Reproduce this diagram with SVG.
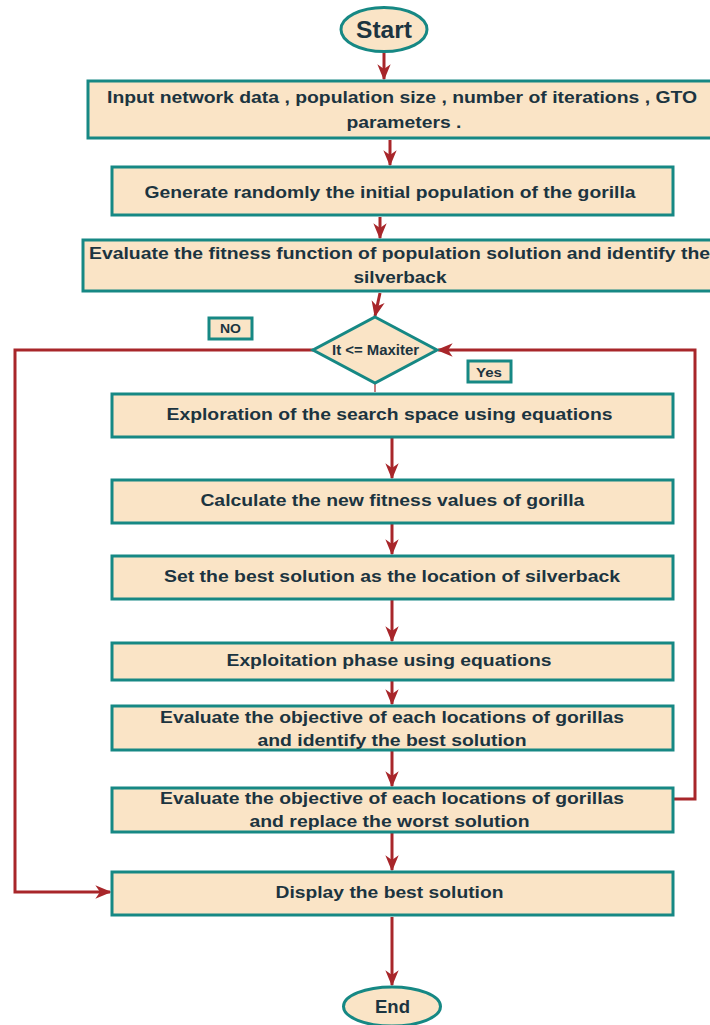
<svg xmlns="http://www.w3.org/2000/svg" width="710" height="1025" viewBox="0 0 710 1025">
<style>
.n{fill:#FAE4C6;stroke:#168884;stroke-width:3}
.t{font-family:"Liberation Sans",Arial,sans-serif;font-weight:bold;fill:#1C3440;text-anchor:middle}
.c{fill:none;stroke:#A8262A;stroke-width:3}
</style>
<defs>
<marker id="ah" viewBox="0 0 12 10" refX="11" refY="5" markerWidth="6" markerHeight="5" markerUnits="userSpaceOnUse" orient="auto">
<path d="M0,0 L12,5 L0,10 L3.5,5 z" fill="#A8262A"/>
</marker>
<marker id="a" viewBox="0 0 12 10" refX="11" refY="5" markerWidth="16" markerHeight="14" markerUnits="userSpaceOnUse" orient="auto">
<path d="M0,0 L12,5 L0,10 L3.5,5 z" fill="#A8262A"/>
</marker>
</defs>
<rect width="710" height="1025" fill="#fff"/>
<g id="connectors">
<path class="c" d="M384,52 V79" marker-end="url(#a)"/>
<path class="c" d="M390,140 V165" marker-end="url(#a)"/>
<path class="c" d="M380,217 V238" marker-end="url(#a)"/>
<path class="c" d="M380,293 L375,316" marker-end="url(#a)"/>
<path d="M375,383 V392" stroke="#A8262A" stroke-width="1.2" fill="none"/>
<path class="c" d="M392,438 V478" marker-end="url(#a)"/>
<path class="c" d="M392,524 V554" marker-end="url(#a)"/>
<path class="c" d="M392,600 V641" marker-end="url(#a)"/>
<path class="c" d="M392,681 V704" marker-end="url(#a)"/>
<path class="c" d="M392,751 V786" marker-end="url(#a)"/>
<path class="c" d="M392,833 V870" marker-end="url(#a)"/>
<path class="c" d="M392,917 V985" marker-end="url(#a)"/>
<path class="c" d="M313,350 H15 V892 H110" marker-end="url(#a)"/>
<path class="c" d="M674,799 H695 V350 H438" marker-end="url(#a)"/>
</g>
<g id="start">
<ellipse class="n" cx="384" cy="29.5" rx="43" ry="22" stroke-width="1.5"/>
<text class="t" x="384" y="37.5" font-size="23" textLength="56" lengthAdjust="spacingAndGlyphs">Start</text>
</g>
<g id="input">
<rect class="n" x="88" y="81" width="625" height="57"/>
<text class="t" x="402" y="103" font-size="17" textLength="590" lengthAdjust="spacingAndGlyphs">Input network data , population size , number of iterations , GTO</text>
<text class="t" x="404" y="128" font-size="17" textLength="115" lengthAdjust="spacingAndGlyphs">parameters .</text>
</g>
<g id="generate">
<rect class="n" x="112" y="167" width="561" height="48"/>
<text class="t" x="390" y="198" font-size="17" textLength="491" lengthAdjust="spacingAndGlyphs">Generate randomly the initial population of the gorilla</text>
</g>
<g id="evaluate-fitness">
<rect class="n" x="83" y="240" width="635" height="51"/>
<text class="t" x="399.5" y="259" font-size="17" textLength="621" lengthAdjust="spacingAndGlyphs">Evaluate the fitness function of population solution and identify the</text>
<text class="t" x="400" y="283" font-size="17" textLength="93" lengthAdjust="spacingAndGlyphs">silverback</text>
</g>
<g id="decision">
<path class="n" d="M375,317 L437,350 L375,383 L313,350 Z"/>
<text class="t" x="375.5" y="355" font-size="14" textLength="87" lengthAdjust="spacingAndGlyphs">It &lt;= Maxiter</text>
</g>
<g id="label-no">
<rect class="n" x="209" y="318" width="43" height="21"/>
<text class="t" x="230.5" y="333" font-size="13" textLength="21" lengthAdjust="spacingAndGlyphs">NO</text>
</g>
<g id="label-yes">
<rect class="n" x="468" y="361" width="43" height="21"/>
<text class="t" x="489" y="376.5" font-size="13" textLength="26" lengthAdjust="spacingAndGlyphs">Yes</text>
</g>
<g id="exploration">
<rect class="n" x="112" y="394" width="561" height="43"/>
<text class="t" x="389.5" y="420" font-size="17" textLength="446" lengthAdjust="spacingAndGlyphs">Exploration of the search space using equations</text>
</g>
<g id="calculate">
<rect class="n" x="112" y="480" width="561" height="43"/>
<text class="t" x="392.4" y="506" font-size="17" textLength="384" lengthAdjust="spacingAndGlyphs">Calculate the new fitness values of gorilla</text>
</g>
<g id="set-best">
<rect class="n" x="112" y="556" width="561" height="43"/>
<text class="t" x="392" y="582" font-size="17" textLength="456" lengthAdjust="spacingAndGlyphs">Set the best solution as the location of silverback</text>
</g>
<g id="exploitation">
<rect class="n" x="112" y="643" width="561" height="37"/>
<text class="t" x="389" y="666" font-size="17" textLength="325" lengthAdjust="spacingAndGlyphs">Exploitation phase using equations</text>
</g>
<g id="evaluate-identify">
<rect class="n" x="112" y="706" width="561" height="44"/>
<text class="t" x="392" y="723" font-size="17" textLength="464" lengthAdjust="spacingAndGlyphs">Evaluate the objective of each locations of gorillas</text>
<text class="t" x="392" y="745.5" font-size="17" textLength="269" lengthAdjust="spacingAndGlyphs">and identify the best solution</text>
</g>
<g id="evaluate-replace">
<rect class="n" x="112" y="788" width="561" height="44"/>
<text class="t" x="392" y="803.5" font-size="17" textLength="464" lengthAdjust="spacingAndGlyphs">Evaluate the objective of each locations of gorillas</text>
<text class="t" x="389.5" y="827" font-size="17" textLength="280" lengthAdjust="spacingAndGlyphs">and replace the worst solution</text>
</g>
<g id="display">
<rect class="n" x="112" y="872" width="561" height="43"/>
<text class="t" x="389.5" y="898" font-size="17" textLength="228" lengthAdjust="spacingAndGlyphs">Display the best solution</text>
</g>
<g id="end">
<ellipse class="n" cx="392" cy="1006.5" rx="48.5" ry="19.5"/>
<text class="t" x="392.5" y="1013" font-size="18" textLength="35" lengthAdjust="spacingAndGlyphs">End</text>
</g>
</svg>
